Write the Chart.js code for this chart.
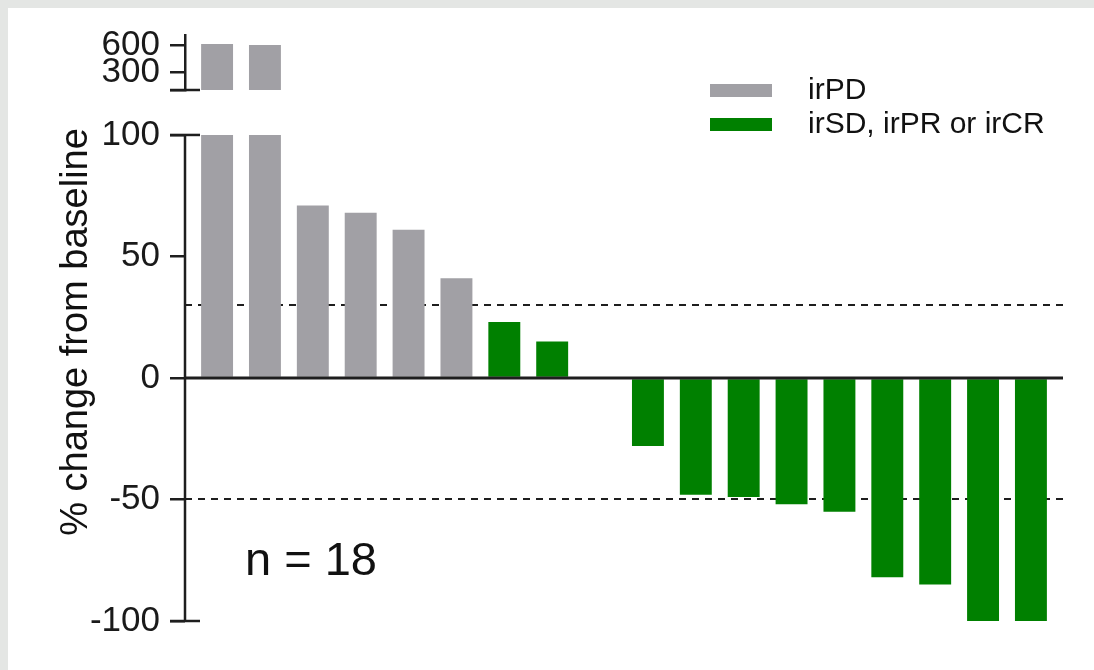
<!DOCTYPE html>
<html>
<head>
<meta charset="utf-8">
<script src="https://cdn.jsdelivr.net/npm/chart.js@4.4.1/dist/chart.umd.min.js"></script>
<style>
  html, body { margin: 0; padding: 0; }
  body { width: 1094px; height: 670px; background: #e4e6e4; position: relative; overflow: hidden; }
  #panel { position: absolute; left: 8px; top: 8px; right: 0; bottom: 0; background: #fff; }
  #wrap { position: absolute; left: 0; top: 0; width: 1094px; height: 670px; }
</style>
</head>
<body>
<div id="panel"></div>
<div id="wrap"><canvas id="waterfall" width="1094" height="670"></canvas></div>
<script>
// one bar per patient, sorted from largest increase to largest decrease
const patients = [1, 2, 3, 4, 5, 6, 7, 8, 9, 10, 11, 12, 13, 14, 15, 16, 17, 18];
const pctChange = [610, 600, 71, 68, 61, 41, 23, 15, 0, -28, -48, -49, -52, -55, -82, -85, -100, -100];
const response = ['irPD', 'irPD', 'irPD', 'irPD', 'irPD', 'irPD',
  'irSD, irPR or irCR', 'irSD, irPR or irCR', 'irSD, irPR or irCR', 'irSD, irPR or irCR',
  'irSD, irPR or irCR', 'irSD, irPR or irCR', 'irSD, irPR or irCR', 'irSD, irPR or irCR',
  'irSD, irPR or irCR', 'irSD, irPR or irCR', 'irSD, irPR or irCR', 'irSD, irPR or irCR'];
const groups = ['irPD', 'irSD, irPR or irCR'];
const lowerTicks = [-100, -50, 0, 50, 100];
const upperTicks = [100, 300, 600];
const refLines = [30, -50];
const axisBreak = 100;

const groupColors = { 'irPD': '#a1a0a5', 'irSD, irPR or irCR': '#008000' };
const ink = '#1e1e1e';
const fontFam = 'Arial, "Liberation Sans", sans-serif';

// lower part of the axis, values clipped at the break
function lowerData(group) {
  return patients.map((p, i) => ({ x: p, y: response[i] === group ? Math.min(pctChange[i], axisBreak) : null }));
}
// upper part, only for values above the break
function upperData(group) {
  return patients.map((p, i) => ({
    x: p,
    y: response[i] === group && pctChange[i] > axisBreak ? [axisBreak, pctChange[i]] : null
  }));
}

const datasets = [];
groups.forEach(g => {
  datasets.push({ label: g, data: lowerData(g), yAxisID: 'y', backgroundColor: groupColors[g] });
});
groups.forEach(g => {
  datasets.push({ label: g, data: upperData(g), yAxisID: 'yTop', backgroundColor: groupColors[g], inLegend: false });
});

const extras = {
  id: 'extras',
  beforeDatasetsDraw(chart) {
    const { ctx, chartArea } = chart;
    const y = chart.scales.y;
    ctx.save();
    ctx.strokeStyle = ink;
    ctx.lineWidth = 2;
    ctx.setLineDash([7, 6]);
    refLines.forEach(v => {
      const py = Math.round(y.getPixelForValue(v));
      ctx.beginPath();
      ctx.moveTo(chartArea.left, py);
      ctx.lineTo(chartArea.right, py);
      ctx.stroke();
    });
    ctx.restore();
  },
  afterDatasetsDraw(chart) {
    const { ctx, chartArea } = chart;
    const y = chart.scales.y;
    const yTop = chart.scales.yTop;
    const ax = chartArea.left;
    ctx.save();
    ctx.strokeStyle = ink;

    // zero line
    ctx.lineWidth = 3;
    const y0 = y.getPixelForValue(0);
    ctx.beginPath();
    ctx.moveTo(ax, y0);
    ctx.lineTo(chartArea.right, y0);
    ctx.stroke();

    // lower axis line, stops at the break
    ctx.lineWidth = 2.5;
    ctx.beginPath();
    ctx.moveTo(ax, y.getPixelForValue(axisBreak));
    ctx.lineTo(ax, y.getPixelForValue(lowerTicks[0]));
    ctx.stroke();

    // caps at the ends of each axis part
    [y.getPixelForValue(axisBreak), y.getPixelForValue(lowerTicks[0]), yTop.getPixelForValue(axisBreak)].forEach(py => {
      ctx.beginPath();
      ctx.moveTo(ax - 15, py);
      ctx.lineTo(ax + 15, py);
      ctx.stroke();
    });

    // n label
    ctx.fillStyle = '#111';
    ctx.font = '47px ' + fontFam;
    ctx.textAlign = 'left';
    ctx.textBaseline = 'alphabetic';
    ctx.fillText('n = ' + patients.length, 245, 575);

    // legend
    ctx.font = '30px ' + fontFam;
    ctx.textBaseline = 'middle';
    chart.data.datasets.filter(d => d.inLegend !== false).forEach((d, i) => {
      const cy = 90.5 + i * 34;
      ctx.fillStyle = d.backgroundColor;
      ctx.fillRect(710, cy - 6.5, 62, 13);
      ctx.fillStyle = '#111';
      ctx.fillText(d.label, 808, cy);
    });

    // axis title over both axis parts
    ctx.translate(77, 332);
    ctx.rotate(-Math.PI / 2);
    ctx.textAlign = 'center';
    ctx.font = '38px ' + fontFam;
    ctx.fillStyle = '#111';
    ctx.fillText('% change from baseline', 0, 0);
    ctx.restore();
  }
};

const tickFont = { family: fontFam, size: 35 };

new Chart(document.getElementById('waterfall'), {
  type: 'bar',
  data: { datasets },
  options: {
    responsive: false,
    animation: false,
    devicePixelRatio: 1,
    layout: { padding: { left: 0, right: 31, top: 35, bottom: 49 } },
    datasets: { bar: { grouped: false, barPercentage: 1, categoryPercentage: 0.667 } },
    plugins: { legend: { display: false }, tooltip: { enabled: false } },
    scales: {
      x: {
        type: 'linear',
        offset: false,
        min: 0.33,
        max: 18.67,
        display: false,
        afterBuildTicks: s => { s.ticks = patients.map(v => ({ value: v })); }
      },
      y: {
        type: 'linear',
        position: 'left',
        stack: 'pct',
        stackWeight: 531,
        weight: 0,
        min: -100,
        max: 118.5,
        afterBuildTicks: s => { s.ticks = lowerTicks.map(v => ({ value: v })); },
        afterFit: s => { s.width = 185; },
        border: { display: false },
        grid: { drawOnChartArea: false, tickLength: 15, lineWidth: 2.5, color: ink },
        ticks: { autoSkip: false, font: tickFont, color: '#1a1a1a', padding: 10 }
      },
      yTop: {
        type: 'linear',
        position: 'left',
        stack: 'pct',
        stackWeight: 55,
        weight: 1,
        min: axisBreak,
        max: 711,
        afterBuildTicks: s => { s.ticks = upperTicks.map(v => ({ value: v })); },
        afterFit: s => { s.width = 185; },
        border: { display: true, width: 2.5, color: ink },
        grid: { drawOnChartArea: false, tickLength: 15, lineWidth: 2.5, color: ink },
        ticks: {
          autoSkip: false, font: tickFont, color: '#1a1a1a', padding: 10,
          callback: v => (v === axisBreak ? '' : v)
        }
      }
    }
  },
  plugins: [extras]
});
</script>
</body>
</html>
